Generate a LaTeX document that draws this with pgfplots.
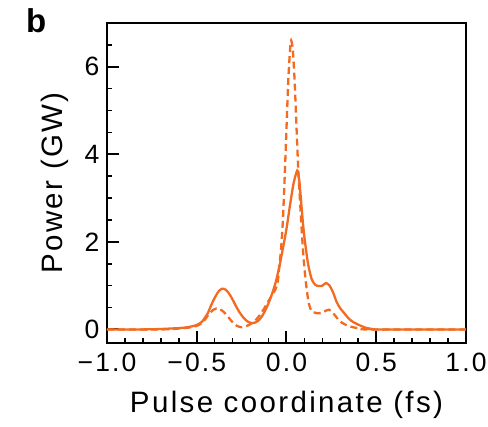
\documentclass[border=0pt]{standalone}
\usepackage{pgfplots}
\pgfplotsset{compat=1.18}
\usepackage{fontspec}
\setmainfont{Liberation Sans}[LetterSpace=8]
\definecolor{pulse}{RGB}{243,107,33}
\begin{document}
\begin{tikzpicture}
\useasboundingbox (-107pt,-84pt) rectangle (381pt,343pt);
\begin{axis}[
  at={(0pt,0pt)}, anchor=south west,
  scale only axis, width=359pt, height=320pt,
  xmin=-1, xmax=1, ymin=-0.31, ymax=7,
  axis line style={line width=2.4pt},
  xtick={-1,-0.5,0,0.5,1},
  xticklabels={−1.0,−0.5,0.0,0.5,1.0},
  minor xtick={-0.9,-0.8,-0.7,-0.6,-0.4,-0.3,-0.2,-0.1,0.1,0.2,0.3,0.4,0.6,0.7,0.8,0.9},
  ytick={0,2,4,6},
  yticklabels={0,2,4,6},
  minor ytick={0.5,1,1.5,2.5,3,3.5,4.5,5,5.5,6.5},
  tick align=inside,
  xtick pos=bottom, ytick pos=left,
  major tick length=12pt, minor tick length=5pt,
  every major tick/.style={line width=2pt, black},
  every minor tick/.style={line width=1.6pt, black},
  tick label style={font=\fontsize{26.5}{30}\selectfont},
  xticklabel style={yshift=-6pt},
  yticklabel style={xshift=-4pt},
  xlabel={Pulse coordinate (fs)},
  ylabel={Power (GW)},
  label style={font=\fontsize{29.5}{34}\selectfont},
  xlabel style={at={(axis description cs:0.5,0)}, anchor=center, yshift=-62pt},
  ylabel style={at={(axis description cs:-0.145,0.5)}, anchor=center, rotate=0},
  clip=true,
]
\addplot[pulse, line width=2.3pt, smooth, tension=0.4] coordinates {
(-1.0,0) (-0.8,0.0) (-0.7,0.01) (-0.6,0.03) (-0.55,0.05) (-0.5,0.1)
(-0.47,0.18) (-0.44,0.36) (-0.42,0.55) (-0.40,0.72) (-0.38,0.86)
(-0.36,0.93) (-0.34,0.91) (-0.32,0.82) (-0.30,0.68) (-0.28,0.52)
(-0.26,0.38) (-0.24,0.27) (-0.22,0.19) (-0.20,0.15) (-0.18,0.15)
(-0.16,0.19) (-0.14,0.28) (-0.12,0.42) (-0.10,0.60) (-0.08,0.82)
(-0.06,1.08) (-0.04,1.43) (-0.02,1.85) (0.00,2.30) (0.02,2.85)
(0.04,3.35) (0.06,3.63) (0.07,3.45) (0.08,3.0) (0.09,2.5)
(0.10,2.1) (0.12,1.5) (0.14,1.15) (0.16,1.02) (0.18,0.99)
(0.20,1.0) (0.22,1.06) (0.24,1.0) (0.26,0.84) (0.28,0.62)
(0.30,0.48) (0.32,0.38) (0.34,0.28) (0.36,0.2) (0.38,0.15)
(0.41,0.09) (0.44,0.04) (0.47,0.015) (0.5,0) (1.0,0)
};
\addplot[pulse, line width=2.3pt, dash pattern=on 7pt off 4pt, smooth, tension=0.4] coordinates {
(-1.0,0) (-0.7,0.0) (-0.6,0.02) (-0.55,0.04) (-0.5,0.08)
(-0.47,0.15) (-0.45,0.25) (-0.43,0.36) (-0.41,0.44) (-0.39,0.48)
(-0.37,0.46) (-0.35,0.40) (-0.33,0.31) (-0.31,0.21) (-0.29,0.12)
(-0.27,0.07) (-0.25,0.05) (-0.23,0.07) (-0.21,0.1) (-0.19,0.15)
(-0.17,0.22) (-0.15,0.32) (-0.13,0.44) (-0.11,0.58) (-0.09,0.72)
(-0.07,0.85) (-0.05,1.05) (-0.04,1.45) (-0.03,1.85) (-0.02,2.5)
(-0.01,3.5) (0.0,4.6) (0.01,5.7) (0.02,6.4) (0.026,6.6)
(0.035,6.4) (0.045,5.7) (0.055,4.7) (0.065,3.7) (0.075,2.95)
(0.085,2.25) (0.096,1.58) (0.11,1.0) (0.124,0.6) (0.14,0.42)
(0.17,0.37) (0.2,0.38) (0.22,0.43) (0.236,0.45) (0.25,0.42)
(0.27,0.32) (0.29,0.22) (0.31,0.15) (0.338,0.09) (0.37,0.05)
(0.41,0.02) (0.45,0) (1.0,0)
};
\end{axis}
\node[anchor=base west, font=\fontsize{33}{38}\selectfont\bfseries, inner sep=0pt] at (-81pt,310pt) {b};
\end{tikzpicture}
\end{document}
